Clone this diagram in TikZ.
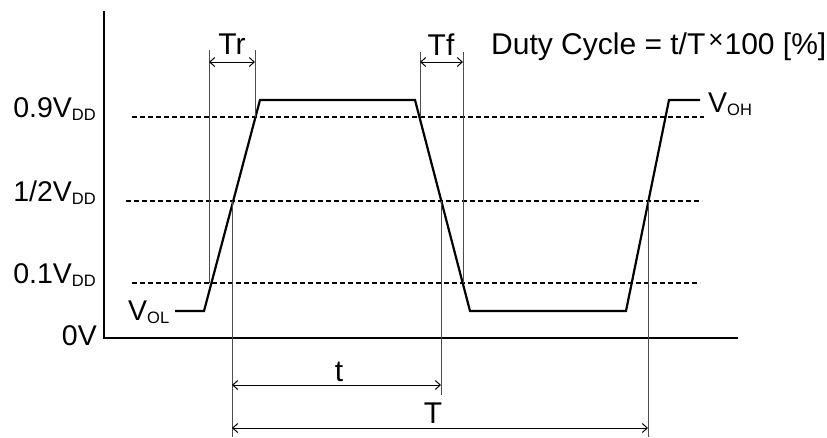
\documentclass[tikz,border=0pt]{standalone}
\usepackage{fontspec}
\setmainfont{Liberation Sans}
\usetikzlibrary{arrows.meta}
\newcommand{\subtxt}[1]{{\fontsize{16.5}{16.5}\selectfont\raisebox{-3pt}{#1}}}
\tikzset{
  axisline/.style={line width=2.4pt},
  levelline/.style={line width=1.8pt, dash pattern=on 5pt off 3pt},
  wave/.style={line width=2.2pt, line join=miter},
  guide/.style={line width=1pt, black!70},
  dimarrow/.style={line width=1pt, {Straight Barb[length=5pt,width=9pt]}-{Straight Barb[length=5pt,width=9pt]}},
  lbl/.style={inner sep=0pt, font=\fontsize{28.5}{28.5}\selectfont},
  biglbl/.style={inner sep=0pt, font=\fontsize{30}{30}\selectfont},
}
\begin{document}
\begin{tikzpicture}[x=1pt,y=-1pt]
\useasboundingbox (0,0) rectangle (827,437);
% axes
\coordinate (ytop) at (104,11);
\coordinate (origin) at (104,338);
\coordinate (xend) at (738,338);
\draw[axisline] (ytop) -- (origin) -- (xend);
% level lines
\coordinate (l9a) at (132,117); \coordinate (l9b) at (704,117);
\coordinate (l5a) at (126,201); \coordinate (l5b) at (702,201);
\coordinate (l1a) at (132,283); \coordinate (l1b) at (700,283);
\draw[levelline] (l9a) -- (l9b);
\draw[levelline] (l5a) -- (l5b);
\draw[levelline] (l1a) -- (l1b);
% waveform
\coordinate (w0) at (175,311);
\coordinate (w1) at (204,311);
\coordinate (w2) at (260,100);
\coordinate (w3) at (415,100);
\coordinate (w4) at (470,311);
\coordinate (w5) at (626,311);
\coordinate (w6) at (669,100);
\coordinate (w7) at (700,100);
\draw[wave] (w0) -- (w1) -- (w2) -- (w3) -- (w4) -- (w5) -- (w6) -- (w7);
% guide lines
\coordinate (g1a) at (209,50);  \coordinate (g1b) at (209,283);
\coordinate (g2a) at (255,50);  \coordinate (g2b) at (255,117);
\coordinate (g3a) at (420,52);  \coordinate (g3b) at (420,117);
\coordinate (g4a) at (463,52);  \coordinate (g4b) at (463,283);
\coordinate (g5a) at (232,201); \coordinate (g5b) at (232,437);
\coordinate (g6a) at (441,201); \coordinate (g6b) at (441,395);
\coordinate (g7a) at (648,201); \coordinate (g7b) at (648,437);
\draw[guide] (g1a) -- (g1b);
\draw[guide] (g2a) -- (g2b);
\draw[guide] (g3a) -- (g3b);
\draw[guide] (g4a) -- (g4b);
\draw[guide] (g5a) -- (g5b);
\draw[guide] (g6a) -- (g6b);
\draw[guide] (g7a) -- (g7b);
% dimension arrows
\coordinate (trl) at (209,62); \coordinate (trr) at (255,62);
\coordinate (tfl) at (420,62); \coordinate (tfr) at (463,62);
\coordinate (tl) at (232,385); \coordinate (tr) at (441,385);
\coordinate (Tl) at (232,428); \coordinate (Tr) at (648,428);
\draw[dimarrow] (trl) -- (trr);
\draw[dimarrow] (tfl) -- (tfr);
\draw[dimarrow] (tl) -- (tr);
\draw[dimarrow] (Tl) -- (Tr);
% labels
\node[biglbl, anchor=base] (trlbl) at (232,54) {Tr};
\node[biglbl, anchor=base] (tflbl) at (441,55) {Tf};
\node[biglbl, anchor=base] (tlbl) at (339,381) {t};
\node[biglbl, anchor=base] (Tlbl) at (433,423) {T};
\node[lbl, anchor=base west, font=\fontsize{30}{30}\selectfont] (duty) at (491,54)
  {Duty Cycle = t/T\kern3pt\raisebox{6pt}{\fontsize{26}{26}\selectfont ×}\kern1pt 100 [\%]};
\node[lbl, anchor=base east] (v09) at (96,117) {0.9V\subtxt{DD}};
\node[lbl, anchor=base east] (v05) at (96,201) {1/2V\subtxt{DD}};
\node[lbl, anchor=base east] (v01) at (96,283) {0.1V\subtxt{DD}};
\node[lbl, anchor=base east] (v0) at (97,345) {0V};
\node[lbl, anchor=base west] (vol) at (128,320) {V\subtxt{OL}};
\node[lbl, anchor=base west] (voh) at (708,112) {V\subtxt{OH}};
\end{tikzpicture}
\end{document}
